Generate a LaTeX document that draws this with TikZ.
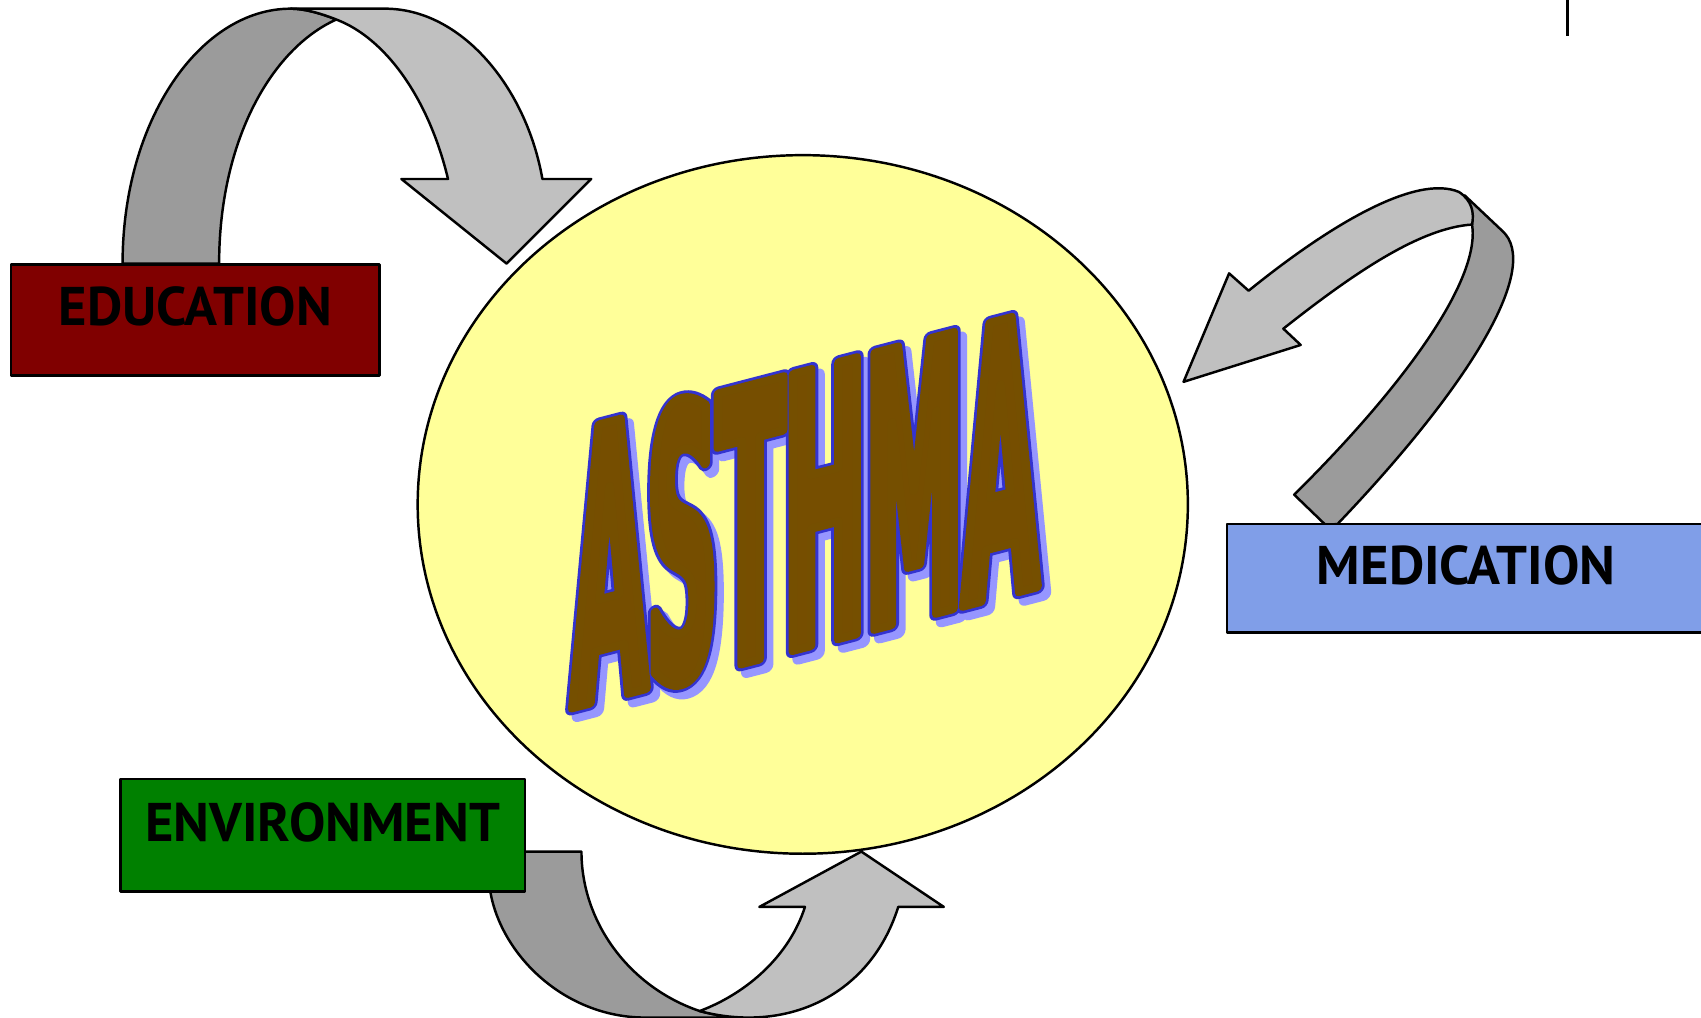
\documentclass[tikz,border=0pt]{standalone}
\usepackage{fontspec}
\usetikzlibrary{shapes.geometric}
\newfontfamily\boxfont{PT Sans}
\newfontfamily\wordfont[FakeStretch=0.257]{DejaVu Sans}
\definecolor{edured}{RGB}{128,0,0}
\definecolor{medblue}{RGB}{128,158,232}
\definecolor{envgreen}{RGB}{0,128,0}
\definecolor{coreyellow}{RGB}{255,255,153}
\definecolor{backgray}{RGB}{155,155,155}
\definecolor{frontgray}{RGB}{192,192,192}
\definecolor{wordbrown}{RGB}{118,78,0}
\definecolor{wordrim}{RGB}{51,51,209}
\definecolor{wordshadow}{RGB}{150,150,255}
\newcommand\stroked[3]{\special{pdf:literal direct 2 Tr 1 j #1 RG #2 w}#3\special{pdf:literal direct 0 Tr}}

\begin{document}
\begin{tikzpicture}[x=0.010848cm, y=-0.010848cm, line width=0.7pt, line join=round,
  topic/.style={draw, rectangle, text=black, font=\boxfont\bfseries\fontsize{15.5}{18}\selectfont, text height=10.8pt, text depth=7.4pt},
  back/.style={draw, fill=backgray},
  front/.style={draw, fill=frontgray},
  wordart/.style={transform shape, font=\wordfont\bfseries\fontsize{108}{120}\selectfont, inner sep=0, anchor=base}]
  \useasboundingbox (0,0) rectangle (1568,938);
  \node[ellipse, draw, fill=coreyellow, minimum width=7.702cm, minimum height=6.986cm, inner sep=0] (core) at (740,465) {};
  \begin{scope}[shift={(742,597)}, yslant=0.26]
    \node[wordart, text=wordshadow] (shadow) at (6,7.6) {\stroked{0.59 0.59 1}{4}{ASTHMA}};
    \node[wordart, text=wordrim] (rim) at (0,0) {\stroked{0.2 0.2 0.82}{4}{ASTHMA}};
    \node[wordart, text=wordbrown] (word) at (0,0) {\stroked{0.46 0.31 0}{2.4}{ASTHMA}};
  \end{scope}
  \draw[back] (113,243) .. controls (113,110) and (185,8) .. (268,8) .. controls (280,8) and (295,12) .. (310,18) .. controls (250,45) and (202,130) .. (202,243) -- cycle;
  \draw[front] (268,8) -- (355,8) .. controls (425,8) and (485,80) .. (500,165) -- (545,165) -- (467,243) -- (370,165) -- (413,165) .. controls (395,90) and (355,35) .. (310,18) .. controls (295,12) and (280,8) .. (268,8) -- cycle;
  \draw[back] (1350,180) -- (1385,213) .. controls (1420,245) and (1360,350) .. (1233,483) -- (1222,484) -- (1193,456) .. controls (1290,360) and (1365,260) .. (1357,207) .. controls (1356,197) and (1354,188) .. (1350,180) -- cycle;
  \draw[front] (1091,352) -- (1133,252) -- (1151,268) .. controls (1225,208) and (1305,160) .. (1345,177) .. controls (1357,185) and (1359,196) .. (1357,207) .. controls (1310,210) and (1250,250) .. (1183,303) -- (1199,318) -- cycle;
  \draw[back] (450,785) -- (536,785) .. controls (536,850) and (580,910) .. (645,932) .. controls (660,936) and (675,938) .. (690,938) -- (595,938) .. controls (520,938) and (462,880) .. (452,822) -- cycle;
  \draw[front] (645,932) .. controls (690,915) and (728,880) .. (742,836) -- (700,836) -- (794,785) -- (870,836) -- (828,836) .. controls (808,900) and (755,938) .. (690,938) .. controls (675,938) and (660,936) .. (645,932) -- cycle;
  \node[topic, fill=edured, minimum width=3.688cm, minimum height=1.107cm] (edu) at (180,295) {EDUCATION};
  \node[topic, fill=medblue, minimum width=4.784cm, minimum height=1.085cm] (med) at (1351.5,533) {MEDICATION};
  \node[topic, fill=envgreen, minimum width=4.046cm, minimum height=1.128cm] (env) at (297.5,770) {ENVIRONMENT};
  \draw (1445,0) -- (1445,33);
\end{tikzpicture}
\end{document}
